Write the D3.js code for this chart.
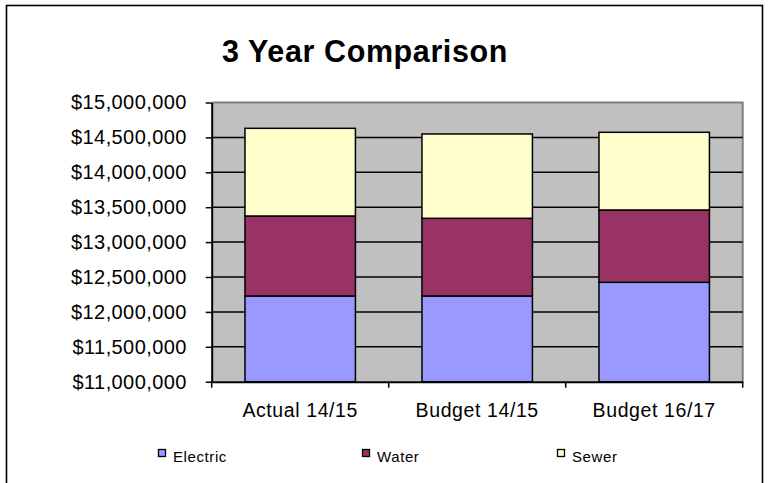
<!DOCTYPE html>
<html>
<head>
<meta charset="utf-8">
<script src="https://cdn.jsdelivr.net/npm/d3@7"></script>
<style>
  html, body { margin: 0; padding: 0; background: #fff; }
  svg { display: block; font-family: Arial, "Liberation Sans", sans-serif; }
</style>
</head>
<body>
<svg id="chart" width="769" height="483"></svg>
<script>
// Categories and series (dollars)
const categories = ["Actual 14/15", "Budget 14/15", "Budget 16/17"];
const electric = [12228000, 12228000, 12424000];
const water    = [1146000, 1113000, 1036000];
const sewer    = [1256000, 1208000, 1113000];
const seriesNames = ["Electric", "Water", "Sewer"];
const seriesColors = ["#9999FF", "#993366", "#FFFFCC"];
const yTicks = [11000000, 11500000, 12000000, 12500000, 13000000, 13500000, 14000000, 14500000, 15000000];

const svg = d3.select("#chart");

// outer frame
svg.append("rect")
  .attr("x", 6.5).attr("y", 5.5)
  .attr("width", 756).attr("height", 490)
  .attr("fill", "#fff")
  .attr("stroke", "#000").attr("stroke-width", 1.6);

// title
svg.append("text")
  .attr("x", 365).attr("y", 62)
  .attr("text-anchor", "middle")
  .attr("font-size", "30.5px").attr("font-weight", "bold")
  .attr("letter-spacing", "0.6px")
  .text("3 Year Comparison");

const plot = { left: 211.7, right: 742.7, top: 102.5, bottom: 381.7 };

const x = d3.scaleBand()
  .domain(categories)
  .range([plot.left, plot.right])
  .paddingInner(0.376)
  .paddingOuter(0.188);

const y = d3.scaleLinear()
  .domain([11000000, 15000000])
  .range([plot.bottom, plot.top]);

// plot background
svg.append("rect")
  .attr("x", plot.left).attr("y", plot.top)
  .attr("width", plot.right - plot.left)
  .attr("height", plot.bottom - plot.top)
  .attr("fill", "#C0C0C0");

// top/right border of plot area
svg.append("path")
  .attr("d", `M${plot.left},${plot.top}H${plot.right}V${plot.bottom}`)
  .attr("fill", "none").attr("stroke", "#808080").attr("stroke-width", 2);

// gridlines
svg.append("g")
  .selectAll("line")
  .data(yTicks.slice(1, -1))
  .join("line")
  .attr("x1", plot.left).attr("x2", plot.right)
  .attr("y1", d => y(d)).attr("y2", d => y(d))
  .attr("stroke", "#000").attr("stroke-width", 1.5);

// stacked bars
const rows = categories.map((c, i) => ({ cat: c, Electric: electric[i], Water: water[i], Sewer: sewer[i] }));
const stack = d3.stack().keys(seriesNames);
const stacked = stack(rows);
const base = y.domain()[0];

svg.append("g")
  .selectAll("g")
  .data(stacked)
  .join("g")
  .attr("fill", (d, i) => seriesColors[i])
  .selectAll("rect")
  .data(d => d)
  .join("rect")
  .attr("x", d => x(d.data.cat))
  .attr("width", x.bandwidth())
  .attr("y", d => y(d[1]))
  .attr("height", d => y(Math.max(d[0], base)) - y(d[1]))
  .attr("stroke", "#000").attr("stroke-width", 1.5);

// y axis
const fmt = d => "$" + d3.format(",")(d);
const yAxis = svg.append("g")
  .attr("transform", `translate(${plot.left},0)`)
  .call(d3.axisLeft(y).tickValues(yTicks).tickFormat(fmt).tickSize(6).tickSizeOuter(0));
yAxis.select(".domain").attr("stroke", "#000").attr("stroke-width", 2);
yAxis.selectAll(".tick line").attr("stroke", "#000").attr("stroke-width", 1.5);
yAxis.selectAll(".tick text")
  .attr("x", -25)
  .attr("font-size", "20px")
  .attr("letter-spacing", "0.4px")
  .attr("fill", "#000")
  .attr("font-family", "Arial, 'Liberation Sans', sans-serif");

// x axis
const xAxis = svg.append("g")
  .attr("transform", `translate(0,${plot.bottom})`)
  .call(d3.axisBottom(x).tickSize(0).tickSizeOuter(0));
xAxis.select(".domain").attr("stroke", "#000").attr("stroke-width", 2);
xAxis.selectAll(".tick text")
  .attr("y", 21)
  .attr("dy", "0.71em")
  .attr("font-size", "19.5px")
  .attr("letter-spacing", "0.6px")
  .attr("fill", "#000")
  .attr("font-family", "Arial, 'Liberation Sans', sans-serif");

// category boundary ticks
const bounds = d3.range(categories.length + 1).map(i => plot.left + i * (plot.right - plot.left) / categories.length);
svg.append("g")
  .selectAll("line")
  .data(bounds)
  .join("line")
  .attr("x1", d => d).attr("x2", d => d)
  .attr("y1", plot.bottom).attr("y2", plot.bottom + 6)
  .attr("stroke", "#000").attr("stroke-width", 1.5);

// legend
const legendX = [158.5, 362.5, 557.5];
const legend = svg.append("g")
  .selectAll("g")
  .data(seriesNames)
  .join("g")
  .attr("transform", (d, i) => `translate(${legendX[i]},449.5)`);
legend.append("rect")
  .attr("width", 7).attr("height", 7)
  .attr("fill", (d, i) => seriesColors[i])
  .attr("stroke", "#000").attr("stroke-width", 1.3);
legend.append("text")
  .attr("x", 14.5).attr("y", 12)
  .attr("font-size", "15px")
  .attr("letter-spacing", "0.6px")
  .attr("fill", "#000")
  .text(d => d);
</script>
</body>
</html>
